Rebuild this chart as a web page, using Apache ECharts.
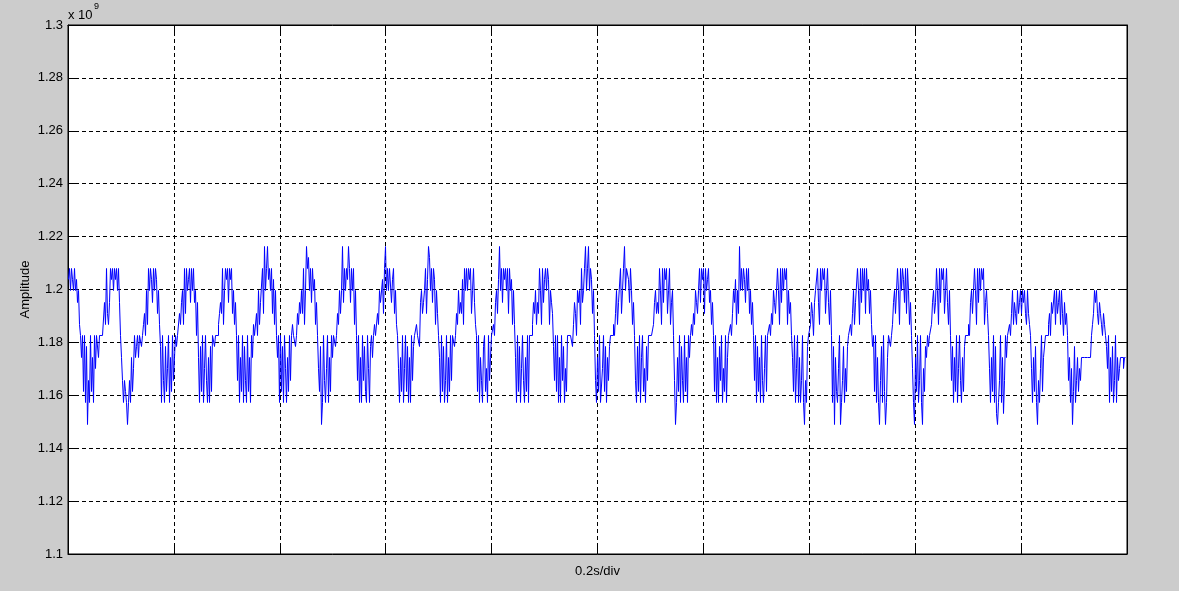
<!DOCTYPE html>
<html>
<head>
<meta charset="utf-8">
<script src="https://cdn.jsdelivr.net/npm/echarts@6/dist/echarts.min.js"></script>
<style>
html,body{margin:0;padding:0;background:#cccccc;}
#chart{width:1179px;height:591px;}
</style>
</head>
<body>
<div id="chart"></div>
<script>
// Quantised amplitude levels (x 10^9)
const levels = [1.148960,1.153119,1.157278,1.161437,1.165595,1.170132,1.174291,1.178450,1.182609,
                1.186767,1.190926,1.195085,1.199622,1.203781,1.207940,1.212098,1.216257];

// Sampled signal (one sample per screen pixel), as indices into `levels`
const levelCodes = [
  13,14,12,14,13,12,14,12,13,11,12, 9,8, 6,8,3,8,2,7,0,4,2,8,3,6,2, 8,5,8,8,6,8,8,8,8,8,
  11,9,14,10,9,11,14,13,14,12,14,13,14,12,14, 11,8, 6,4,2,4,3,2,0,2,4,2,6,3,5, 8,6,7,8,6,8,8,7,8,9,
  10,8,12,9,14,12,14,13,11,14,12,14,13,10,12, 9,7, 2,8,4,2,7,3,5,8,2,6,3,8,4, 6,8,7,8,8,10,9,11,
  12,9,14,10,14,12,13,14,11,14,12,14,11,12,8, 11,6, 2,7,3,8,2,5,8,4,2,6,2,7,3, 8,8,7,8,8,8,9,10,11,
  10,14,9,12,14,13,14,11,14,13,14,10,12,9,11, 8,4, 8,2,6,3,8,2,7,4,2,8,3,6,2, 8,6,9,8,8,10,8,12,9,11,
  11,14,10,16,12,14,16,13,14,12,14,10,13,9,12, 8,6, 8,2,8,3,7,2,8,5,2,6,3,8,4, 8,9,8,8,7,8,10,9,11,10,12,
  10,14,9,12,16,14,15,12,14,11,14,12,13,9,11, 8,5, 3,7,0,2,8,4,2,5,8,2,6,3,8, 6,8,8,7,8,10,9,12,10,
  12,16,11,14,12,14,13,16,14,11,14,12,14,9,12, 8,4, 8,2,6,2,8,4,7,3,2,8,5,2,7, 8,6,8,9,8,8,10,9,12,11,
  11,13,10,14,16,12,14,12,14,14,11,13,14,10,12,9, 8,5, 2,6,3,8,2,5,8,3,7,2,6,2,8,4, 7,8,8,9,8,8,7,11,12,10,11,
  12,14,10,13,16,15,12,14,11,14,13,9,12,10, 8,6, 2,8,3,7,2,4,8,2,6,3,8,4, 8,8,7,8,10,9,12,10,11,
  10,13,9,14,12,14,12,14,13,14,10,12,14,11,9, 8,3, 8,2,6,4,2,7,8,3,5,2,8,4, 6,8,8,9,8,11,12,10,13,
  16,12,14,11,14,13,14,12,14,10,14,12,13,9,12, 9,6, 2,8,3,7,2,5,8,4,2,6,3,8,2, 8,8,8,9,11,10,12,9,11,
  10,14,12,9,14,11,13,14,12,14,13,9,12,11,10, 7,4, 8,3,8,2,6,2,8,4,7,2,5,3,8, 8,8,8,8,7,9,11,10,8,12,11,
  12,9,14,11,12,14,16,12,14,16,12,14,13,10,12, 8,4, 2,6,3,8,2,2,5,8,3,7,2,6,4, 7,8,8,8,9,8,10,12,9,11,
  11,14,10,12,14,16,12,14,14,13,11,14,12,9,11, 8,4, 2,7,3,8,2,6,8,3,5,2,7,4,8, 8,8,8,8,9,11,12,10,11,
  10,14,12,9,14,11,14,13,14,10,12,14,9,11,12, 8,4, 0,2,6,3,8,2,7,4,2,8,3,6,2, 8,6,8,9,8,10,9,12,11,10,
  12,14,11,14,13,14,10,14,12,13,14,11,12,9,11, 8,3, 8,2,6,2,7,4,8,2,5,3,8,2,6, 8,8,9,8,10,12,11,13,9,12,10,
  16,12,14,12,14,13,11,14,12,14,10,12,9,11, 8,4, 8,2,7,3,6,2,8,4,2,5,8,3, 8,8,9,8,10,9,12,11,10,
  10,14,12,9,14,11,14,12,14,13,14,9,12,10,11, 8,6, 3,8,2,5,8,2,6,2,4,8,2,0,4,2, 7,8,8,9,11,10,8,11,12,
  12,14,11,9,14,12,14,13,14,10,12,14,11,9,12, 8,2, 7,0,6,3,2,5,8,0,2,4,7,2,5,3, 7,8,8,9,8,10,12,9,11,
  11,14,12,9,14,11,14,12,14,10,14,12,13,10,12, 9,7, 8,3,8,2,6,2,0,4,7,2,8,3,0,2, 6,8,8,7,8,9,11,12,10,
  10,14,12,9,14,12,14,13,11,14,10,14,12,9,11, 8,5, 2,0,6,3,8,2,4,8,2,0,5,3,7, 6,8,7,8,8,9,11,12,10,
  11,14,12,9,14,11,14,13,14,10,12,14,11,9,12, 8,4, 7,2,6,3,8,2,5,8,4,2,6,3, 7,8,8,8,9,8,11,12,10,
  10,14,12,9,14,11,14,12,14,13,14,9,11,12,10, 8,5, 2,6,3,8,2,7,1,0,2,4,8,2,6,1,4, 8,6,8,8,9,8,10,12,9,11,10,
  9,12,10,11,12,10,12,11,12,10,9,12,10,9, 8,5, 2,6,3,7,2,0,4,2,5,8,3,6, 6,8,8,8,9,10,8,11,10,
  10,12,9,12,10,11,12,9,12,10,8,11,9,10, 8,4, 6,2,5,0,3,7,2,4,6,3,5,4, 6,6,6,6,6,6,6,6,6,6,8,9,
  10,12,11,12,10,9,11,10,9,8,10,9,8, 7,5, 8,2,6,3,7,2,4,8,2,6,4,5, 6,6,6,5,6,6
];

const divisions = 10;               // 0.2 s per division
const pixelSamples = 1059;          // samples across the plot width
const yTicks = [1.1,1.12,1.14,1.16,1.18,1.2,1.22,1.24,1.26,1.28,1.3];

const seriesData = levelCodes.map((c, i) => [i, levels[c]]);

const FONT = "'Liberation Sans', Arial, Helvetica, sans-serif";
const chart = echarts.init(document.getElementById('chart'), null, {renderer: 'canvas'});

const gridLine = () => ({show: true, lineStyle: {color: '#000', width: 1, type: [4, 3]}});
const tick = () => ({show: true, inside: true, length: 9, lineStyle: {color: '#000', width: 1}});
const axLine = () => ({show: true, onZero: false, lineStyle: {color: '#000', width: 1}});

chart.setOption({
  animation: false,
  backgroundColor: '#cccccc',
  grid: {left: 68, right: 52, top: 25, bottom: 37, show: true, backgroundColor: '#ffffff', borderColor: '#000', borderWidth: 1},
  xAxis: [
    {type: 'value', min: 0, max: divisions, interval: 1, position: 'bottom',
     axisLine: axLine(), axisTick: tick(), axisLabel: {show: false}, splitLine: gridLine()},
    {type: 'value', min: 0, max: divisions, interval: 1, position: 'top',
     axisLine: axLine(), axisTick: tick(), axisLabel: {show: false}, splitLine: {show: false}},
    {type: 'value', show: false, min: -0.5, max: pixelSamples - 0.5, position: 'bottom',
     splitLine: {show: false}}
  ],
  yAxis: [
    {type: 'value', min: yTicks[0], max: yTicks[yTicks.length - 1], interval: 0.02, position: 'left',
     axisLine: axLine(), axisTick: tick(), splitLine: gridLine(),
     axisLabel: {show: true, margin: 5, color: '#000', fontSize: 13, fontFamily: FONT,
       formatter: v => String(parseFloat(v.toFixed(2)))}},
    {type: 'value', min: yTicks[0], max: yTicks[yTicks.length - 1], interval: 0.02, position: 'right',
     axisLine: axLine(), axisTick: tick(), splitLine: {show: false}, axisLabel: {show: false}}
  ],
  series: [{
    type: 'line', data: seriesData, step: 'end', showSymbol: false, symbol: 'none',
    lineStyle: {color: '#0000ff', width: 1}, xAxisIndex: 2, yAxisIndex: 0, z: 3
  }],
  graphic: [
    {type: 'text', x: 68, y: 9, style: {text: 'x 10', fill: '#000', font: '13px ' + FONT}},
    {type: 'text', x: 94, y: 2, style: {text: '9', fill: '#000', font: '9px ' + FONT}},
    {type: 'text', x: 25, y: 289.5, rotation: Math.PI / 2,
     style: {text: 'Amplitude', fill: '#000', font: '13px ' + FONT, textAlign: 'center', textVerticalAlign: 'middle'}},
    {type: 'text', x: 597.5, y: 571,
     style: {text: '0.2s/div', fill: '#000', font: '13px ' + FONT, textAlign: 'center', textVerticalAlign: 'middle'}}
  ]
});
</script>
</body>
</html>
